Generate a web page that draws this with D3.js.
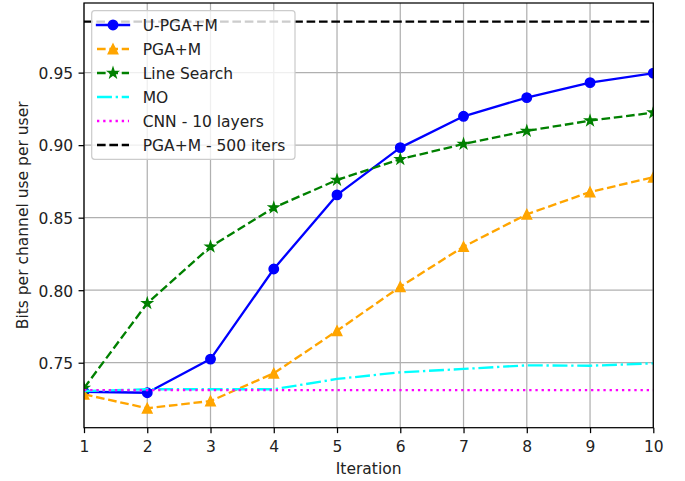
<!DOCTYPE html>
<html>
<head>
<meta charset="utf-8">
<script src="https://cdn.jsdelivr.net/npm/d3@7"></script>
<style>
  html, body { margin: 0; padding: 0; background: #fff; }
  svg { display: block; font-family: "DejaVu Sans", sans-serif; }
</style>
</head>
<body>
<svg id="chart" width="685" height="481"></svg>
<script>
// Iteration index on the x axis
const iterations = [1, 2, 3, 4, 5, 6, 7, 8, 9, 10];

// Rate per channel use per user for each method
const uPgaM      = [0.7300, 0.7293, 0.7525, 0.8146, 0.8657, 0.8983, 0.9199, 0.9328, 0.9431, 0.9496];
const pgaM       = [0.7282, 0.7186, 0.7236, 0.7427, 0.7720, 0.8024, 0.8300, 0.8523, 0.8677, 0.8779];
const lineSearch = [0.7325, 0.7910, 0.8300, 0.8569, 0.8760, 0.8903, 0.9008, 0.9098, 0.9169, 0.9224];
const mo         = [0.7305, 0.7317, 0.7317, 0.7317, 0.7388, 0.7434, 0.7457, 0.7482, 0.7479, 0.7496];
const cnn10      = [0.7311, 0.7311, 0.7311, 0.7311, 0.7311, 0.7311, 0.7311, 0.7311, 0.7311, 0.7311];
const pga500     = [0.9852, 0.9852, 0.9852, 0.9852, 0.9852, 0.9852, 0.9852, 0.9852, 0.9852, 0.9852];

const xTicks = [1, 2, 3, 4, 5, 6, 7, 8, 9, 10];
const yTicks = [0.75, 0.80, 0.85, 0.90, 0.95];

const seriesNames = ["U-PGA+M", "PGA+M", "Line Search", "MO", "CNN - 10 layers", "PGA+M - 500 iters"];
const seriesValues = [uPgaM, pgaM, lineSearch, mo, cnn10, pga500];

// Styling per series (colour, dash pattern, marker)
const pt = 112 / 72;               // px per point
const lw = 1.5 * pt;
const styles = [
  { color: "#0000ff", dash: null, marker: "circle" },
  { color: "#ffa500", dash: [3.7 * 1.5 * pt, 1.6 * 1.5 * pt], marker: "triangle" },
  { color: "#008000", dash: [3.7 * 1.5 * pt, 1.6 * 1.5 * pt], marker: "star" },
  { color: "#00ffff", dash: [6.4 * 1.5 * pt, 1.6 * 1.5 * pt, 1 * 1.5 * pt, 1.6 * 1.5 * pt], marker: null },
  { color: "#ff00ff", dash: [1 * 1.5 * pt, 1.65 * 1.5 * pt], marker: null },
  { color: "#000000", dash: [3.7 * 1.5 * pt, 1.6 * 1.5 * pt], marker: null }
];

const svg = d3.select("#chart");
const plot = { left: 84, right: 653.3, top: 3, bottom: 427.7 };

const x = d3.scaleLinear().domain([1, 10]).range([plot.left, plot.right]);
const y = d3.scaleLinear().domain([0.7052, 0.998]).range([plot.bottom, plot.top]);

const fontSize = 15.5;
const tickLen = 3.5 * pt;

// clip region for the plot area
svg.append("defs").append("clipPath").attr("id", "plotClip")
  .append("rect")
  .attr("x", plot.left).attr("y", plot.top)
  .attr("width", plot.right - plot.left).attr("height", plot.bottom - plot.top);

// grid
const grid = svg.append("g");
grid.selectAll("line.gx").data(xTicks).join("line")
  .attr("x1", d => x(d)).attr("x2", d => x(d))
  .attr("y1", plot.top).attr("y2", plot.bottom)
  .attr("stroke", "#b0b0b0").attr("stroke-width", 0.8 * pt);
grid.selectAll("line.gy").data(yTicks).join("line")
  .attr("y1", d => y(d)).attr("y2", d => y(d))
  .attr("x1", plot.left).attr("x2", plot.right)
  .attr("stroke", "#b0b0b0").attr("stroke-width", 0.8 * pt);

// marker shapes
function markerPath(kind) {
  const s = 6 * pt; // marker size (diameter)
  if (kind === "circle") return d3.symbol(d3.symbolCircle, Math.PI * (s / 2) * (s / 2))();
  if (kind === "triangle") {
    const r = s / 2;
    return `M0,${-r}L${r},${r}L${-r},${r}Z`;
  }
  if (kind === "star") {
    const R = s / 2 * 1.05, ri = R * 0.381966;
    let p = "";
    for (let i = 0; i < 10; i++) {
      const a = -Math.PI / 2 + i * Math.PI / 5;
      const rr = i % 2 === 0 ? R : ri;
      p += (i === 0 ? "M" : "L") + (rr * Math.cos(a)).toFixed(3) + "," + (rr * Math.sin(a)).toFixed(3);
    }
    return p + "Z";
  }
  return null;
}

const lineGen = d3.line().x((d, i) => x(iterations[i])).y(d => y(d));

const series = svg.append("g").attr("clip-path", "url(#plotClip)");
seriesValues.forEach((vals, k) => {
  const st = styles[k];
  const g = series.append("g");
  g.append("path")
    .datum(vals)
    .attr("d", lineGen)
    .attr("fill", "none")
    .attr("stroke", st.color)
    .attr("stroke-width", lw)
    .attr("stroke-linejoin", "round")
    .attr("stroke-linecap", st.dash ? "butt" : "square")
    .attr("stroke-dasharray", st.dash ? st.dash.join(",") : null);
  if (st.marker) {
    g.selectAll("path.m").data(vals).join("path")
      .attr("class", "m")
      .attr("d", markerPath(st.marker))
      .attr("transform", (d, i) => `translate(${x(iterations[i])},${y(d)})`)
      .attr("fill", st.color)
      .attr("stroke", st.color)
      .attr("stroke-width", 1 * pt);
  }
});

// axes
const xAxis = d3.axisBottom(x).tickValues(xTicks).tickFormat(d3.format("d")).tickSize(tickLen).tickPadding(3.5 * pt);
const yAxis = d3.axisLeft(y).tickValues(yTicks).tickFormat(d3.format(".2f")).tickSize(tickLen).tickPadding(3.5 * pt);

const gx = svg.append("g").attr("transform", `translate(0,${plot.bottom})`).call(xAxis);
const gy = svg.append("g").attr("transform", `translate(${plot.left},0)`).call(yAxis);
[gx, gy].forEach(g => {
  g.select(".domain").remove();
  g.selectAll(".tick line").attr("stroke", "#000").attr("stroke-width", 0.8 * pt);
  g.selectAll(".tick text").attr("fill", "#222").attr("font-size", fontSize)
    .attr("font-family", "DejaVu Sans, sans-serif");
});
gx.selectAll(".tick text").attr("dy", null).attr("y", 451.7 - plot.bottom);
gy.selectAll(".tick text").attr("dy", null).attr("y", 5.8);

// frame
svg.append("rect")
  .attr("x", plot.left).attr("y", plot.top)
  .attr("width", plot.right - plot.left).attr("height", plot.bottom - plot.top)
  .attr("fill", "none").attr("stroke", "#000").attr("stroke-width", 0.8 * pt);

// axis titles
svg.append("text")
  .attr("x", (plot.left + plot.right) / 2).attr("y", 473.5)
  .attr("text-anchor", "middle").attr("font-size", fontSize).attr("fill", "#222")
  .text("Iteration");
svg.append("text")
  .attr("transform", `translate(28,${(plot.top + plot.bottom) / 2}) rotate(-90)`)
  .attr("text-anchor", "middle").attr("font-size", fontSize).attr("fill", "#222")
  .text("Bits per channel use per user");

// legend
const legend = svg.append("g");
legend.append("rect")
  .attr("x", 91.7).attr("y", 10.7).attr("width", 203.3).attr("height", 148.6)
  .attr("rx", 3).attr("ry", 3)
  .attr("fill", "#fff").attr("fill-opacity", 0.8)
  .attr("stroke", "#cccccc").attr("stroke-width", 0.8 * pt);

const rowY = d3.scaleLinear().domain([0, 5]).range([25, 145]);
seriesNames.forEach((name, k) => {
  const st = styles[k];
  const cy = rowY(k);
  legend.append("line")
    .attr("x1", 97).attr("x2", 129).attr("y1", cy).attr("y2", cy)
    .attr("stroke", st.color).attr("stroke-width", lw)
    .attr("stroke-linecap", st.dash ? "butt" : "square")
    .attr("stroke-dasharray", st.dash ? st.dash.join(",") : null);
  if (st.marker) {
    legend.append("path")
      .attr("d", markerPath(st.marker))
      .attr("transform", `translate(113,${cy})`)
      .attr("fill", st.color).attr("stroke", st.color).attr("stroke-width", 1 * pt);
  }
  legend.append("text")
    .attr("x", 142.7).attr("y", cy + 5.8)
    .attr("font-size", fontSize).attr("fill", "#222")
    .text(name);
});
</script>
</body>
</html>
